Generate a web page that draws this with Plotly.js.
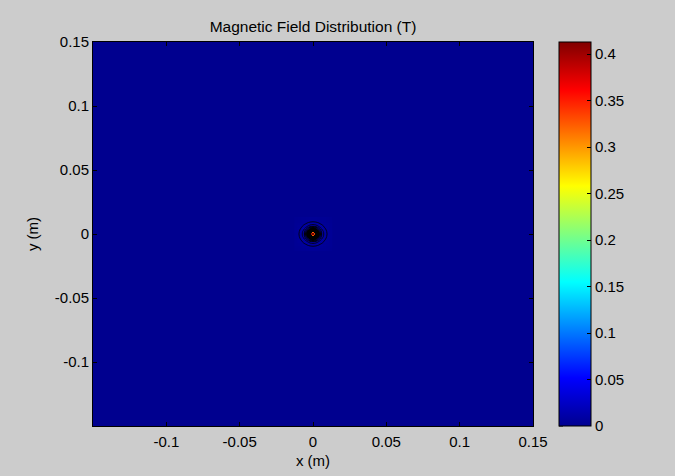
<!DOCTYPE html>
<html>
<head>
<meta charset="utf-8">
<script src="https://cdn.plot.ly/plotly-3.0.1.min.js"></script>
<style>html,body{margin:0;padding:0;background:#cccccc;}</style>
</head>
<body>
<div id="chart" style="width:675px;height:476px;"></div>
<script>
// grid coordinates (m)
const xGrid = [-0.15, -0.014, -0.012, -0.010, -0.008, -0.006, -0.004, -0.002, 0, 0.002, 0.004, 0.006, 0.008, 0.010, 0.012, 0.014, 0.15];
const yGrid = [-0.15, -0.014, -0.012, -0.010, -0.008, -0.006, -0.004, -0.002, 0, 0.002, 0.004, 0.006, 0.008, 0.010, 0.012, 0.014, 0.15];
// field magnitude (T), rows follow yGrid
const rowFar = [0,0,0,0,0,0,0,0,0,0,0,0,0,0,0,0,0];
const row6 = [0,0,0.0015,0.0017,0.0021,0.0025,0.0028,0.0031,0.0032,0.0031,0.0028,0.0025,0.0021,0.0017,0.0015,0,0];
const row5 = [0,0,0.0017,0.0020,0.0027,0.0035,0.0043,0.0049,0.0052,0.0049,0.0043,0.0035,0.0027,0.0020,0.0017,0,0];
const row4 = [0,0,0.0021,0.0027,0.0038,0.0052,0.0067,0.0082,0.0090,0.0082,0.0067,0.0052,0.0038,0.0027,0.0021,0,0];
const row3 = [0,0,0.0025,0.0035,0.0052,0.0076,0.0115,0.016,0.018,0.016,0.0115,0.0076,0.0052,0.0035,0.0025,0,0];
const row2 = [0,0,0.0028,0.0043,0.0067,0.0115,0.021,0.040,0.060,0.040,0.021,0.0115,0.0067,0.0043,0.0028,0,0];
const row1 = [0,0,0.0031,0.0049,0.0082,0.016,0.040,0.140,0.320,0.140,0.040,0.016,0.0082,0.0049,0.0031,0,0];
const row0 = [0,0,0.0032,0.0052,0.0090,0.018,0.060,0.320,0.413,0.320,0.060,0.018,0.0090,0.0052,0.0032,0,0];
const zField = [rowFar,rowFar,row6,row5,row4,row3,row2,row1,row0,row1,row2,row3,row4,row5,row6,rowFar,rowFar];

const axisTicks = [-0.1,-0.05,0,0.05,0.1,0.15];
const axisTickText = ['-0.1','-0.05','0','0.05','0.1','0.15'];
const cbTicks = [0,0.05,0.1,0.15,0.2,0.25,0.3,0.35,0.4];
const cbTickText = ['0','0.05','0.1','0.15','0.2','0.25','0.3','0.35','0.4'];
const zMax = 0.413;

const jet = [
  [0,'rgb(0,0,143)'],
  [0.125,'rgb(0,0,255)'],
  [0.375,'rgb(0,255,255)'],
  [0.625,'rgb(255,255,0)'],
  [0.875,'rgb(255,0,0)'],
  [1,'rgb(128,0,0)']
];

const font = {family:'Liberation Sans, Arial, sans-serif', size:15, color:'#000'};

// colorbar geometry (plot-area fractions)
const cbLeft = (559-93)/440;
const cbThick = 32;

const heat = {
  type:'heatmap', x:xGrid, y:yGrid, z:zField,
  zmin:0, zmax:zMax, colorscale:jet, zsmooth:false,
  hoverinfo:'skip',
  colorbar:{
    x:cbLeft, xanchor:'left', xref:'paper',
    y:1, yanchor:'top', yref:'paper',
    thickness:cbThick, thicknessmode:'pixels',
    len:1, lenmode:'fraction',
    outlinecolor:'#000', outlinewidth:1,
    tickvals:cbTicks, ticktext:cbTickText,
    ticks:'inside', ticklen:4, tickcolor:'#000',
    tickfont:font, xpad:0, ypad:0, borderwidth:0
  }
};
const cont = {
  type:'contour', x:xGrid, y:yGrid, z:zField,
  showscale:false, hoverinfo:'skip',
  contours:{coloring:'none', start:0.006, end:0.3, size:0.006},
  line:{color:'#000', width:0.8, smoothing:1}
};

// left-side colorbar ticks (MATLAB draws ticks on both sides)
const cbLeftTicks = cbTicks.map(v => ({
  type:'line', xref:'paper', yref:'paper',
  x0:cbLeft, x1:cbLeft + 4/440, y0:v/zMax, y1:v/zMax,
  line:{color:'#000', width:1}
}));

const axisBase = {
  range:[-0.15,0.15], showgrid:false, zeroline:false,
  showline:true, linecolor:'#000', linewidth:1, mirror:'ticks',
  ticks:'inside', ticklen:4, tickcolor:'#000',
  tickvals:axisTicks, ticktext:axisTickText, tickfont:font
};

const layout = {
  width:675, height:476,
  paper_bgcolor:'#cccccc', plot_bgcolor:'#00008f',
  margin:{l:93, r:142, t:42, b:50},
  font:font,
  title:{text:'Magnetic Field Distribution (T)', font:Object.assign({}, font, {size:15.5}), x:0.5, xref:'paper', xanchor:'center', y:1-27/476, yanchor:'middle'},
  xaxis:Object.assign({}, axisBase, {title:{text:'x (m)', font:font, standoff:6}, ticklabelstandoff:2}),
  yaxis:Object.assign({}, axisBase, {title:{text:'y (m)', font:font, standoff:12}}),
  shapes:cbLeftTicks,
  showlegend:false
};

Plotly.newPlot('chart',[heat,cont],layout,{displayModeBar:false, staticPlot:true});
</script>
</body>
</html>
